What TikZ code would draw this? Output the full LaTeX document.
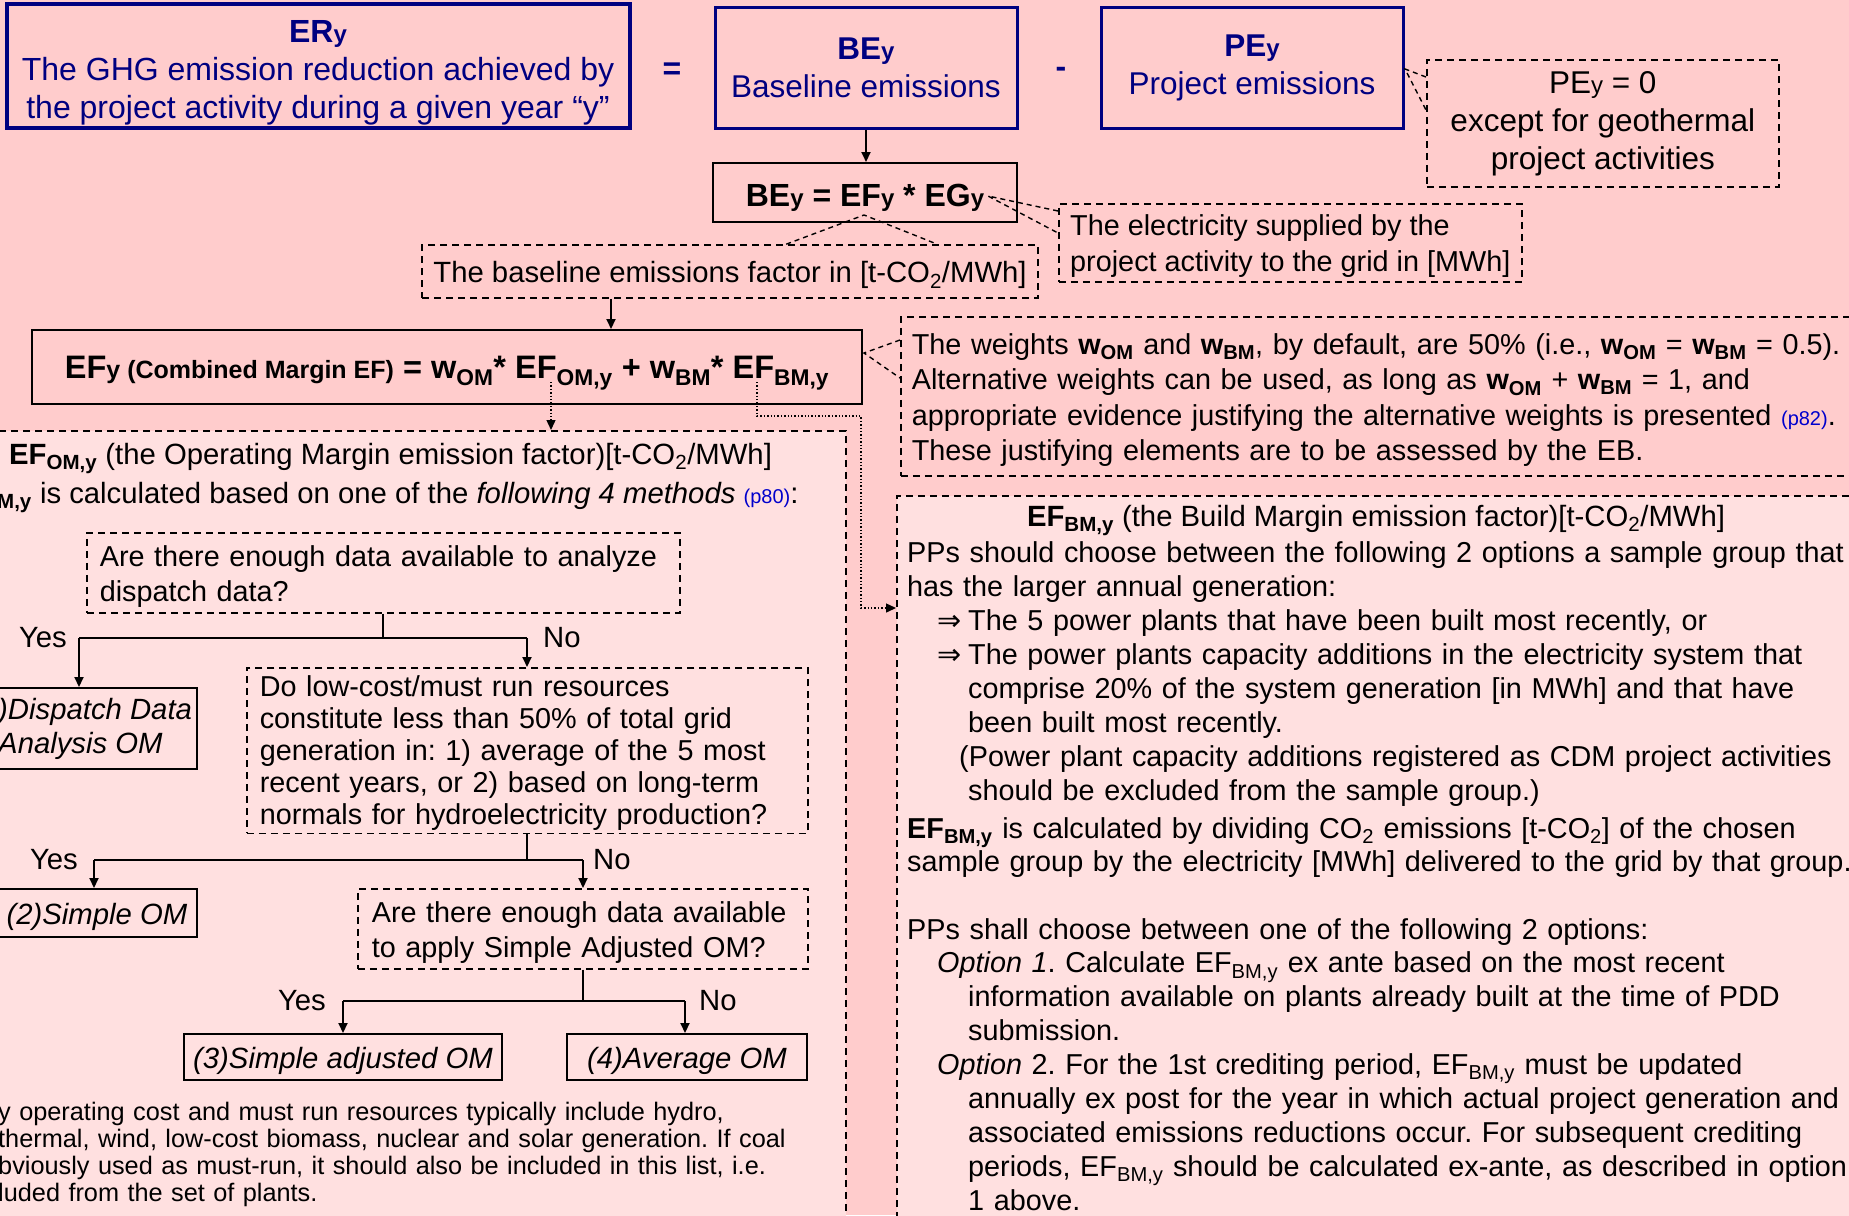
\documentclass[tikz,border=0pt]{standalone}
\usepackage{fontspec}
\setmainfont{Liberation Sans}
\newfontfamily\dvsans{DejaVu Sans}
\usetikzlibrary{positioning,arrows.meta}
\frenchspacing

\definecolor{bgpink}{RGB}{255,204,204}
\definecolor{boxpink}{RGB}{255,224,224}
\definecolor{navy}{RGB}{0,0,128}
\definecolor{linkblue}{RGB}{0,0,204}
\newcommand\lo[1]{\textsubscript{#1}}
\newcommand\sy{{\fontsize{24}{24}\selectfont y}}
\newcommand\pref[1]{{\color{linkblue}\fontsize{20}{20}\selectfont #1}}
\newcommand\topstrut{\rule{0pt}{28pt}}

\begin{document}
\begin{tikzpicture}[x=1pt, y=-1pt,
  big/.style={font=\fontsize{31.5}{38}\selectfont},
  bold/.style={font=\fontsize{32}{38}\selectfont\bfseries},
  head/.style={font=\fontsize{29.3}{34}\selectfont},
  body/.style={font=\fontsize{28.8}{34}\selectfont},
  ital/.style={font=\fontsize{29.3}{34}\selectfont\itshape},
  note/.style={font=\fontsize{25.3}{27.3}\selectfont},
  navybox/.style={draw=navy, line width=3pt, text=navy, align=center, big},
  solidbox/.style={draw, line width=2pt},
  dashbox/.style={draw, line width=1.6pt, dash pattern=on 7pt off 5pt},
  oneline/.style={text height=22pt, text depth=0pt},
  txt/.style={inner sep=0pt, anchor=base west},
  branch/.style={line width=2pt},
  arr/.style={line width=2pt, -{Triangle[length=10pt,width=9pt]}},
  callout/.style={line width=1.4pt, dash pattern=on 5pt off 4pt},
  dotarr/.style={line width=1.4pt, dotted, -{Triangle[length=10pt,width=9pt]}}]
\useasboundingbox (0,0) rectangle (1849,1215);
\clip (0,0) rectangle (1849,1215);
\fill[bgpink] (0,0) rectangle (1849,1215);

% top row: ER = BE - PE
\node[navybox, line width=4pt, font=\fontsize{32}{38}\selectfont, minimum width=623pt, minimum height=121pt] (erbox) at (318,66)
  {\rule{0pt}{35pt}\textbf{ER\sy}\\The GHG emission reduction achieved by\\the project activity during a given year “y”};
\node[bold, text=navy] (eqsign) at (672,71) {=};
\node[navybox, minimum width=302pt, minimum height=120pt] (bebox) at (866,68)
  {\textbf{BE\sy}\\Baseline emissions};
\node[bold, text=navy] (minussign) at (1061,72) {-};
\node[navybox, minimum width=302pt, minimum height=120pt] (pebox) at (1252,68)
  {\textbf{PE\sy}\\Project emissions};
\node[dashbox, big, align=center, anchor=north west, minimum width=352pt, minimum height=127pt] (penote) at (1426,59)
  {PE\sy\ = 0\\except for geothermal\\project activities};

% baseline emissions
\node[solidbox, bold, oneline, text height=28pt, minimum width=304pt, minimum height=59pt] (beform) at (865,192.5) {BE\sy\ = EF\sy\ * EG\sy};
\node[dashbox, head, oneline, minimum width=616pt, minimum height=53pt] (efnote) at (730,271.5)
  {The baseline emissions factor in [t-CO\lo{2}/MWh]};
\node[dashbox, font=\fontsize{28.8}{36}\selectfont, align=left, anchor=north west, minimum width=463pt, minimum height=78pt, inner xsep=7pt] (egnote) at (1058,203)
  {\topstrut The electricity supplied by the\\project activity to the grid in [MWh]};
\node[solidbox, font=\fontsize{32.5}{38}\selectfont\bfseries, oneline, minimum width=830pt, minimum height=74pt] (cmbox) at (447,367)
  {EF{\fontsize{25}{25}\selectfont y (Combined Margin EF)} = w\lo{OM}* EF\lo{OM,y} + w\lo{BM}* EF\lo{BM,y}};
\node[dashbox, font=\fontsize{28.8}{35.5}\selectfont, align=left, anchor=north west, minimum width=1007pt, minimum height=159pt, text width=985pt, inner xsep=11pt] (wnote) at (900,316)
  {\topstrut The weights \textbf{w\lo{OM}} and \textbf{w\lo{BM}}, by default, are 50\% (i.e., \textbf{w\lo{OM}} = \textbf{w\lo{BM}} = 0.5).\\
   Alternative weights can be used, as long as \textbf{w\lo{OM}} + \textbf{w\lo{BM}} = 1, and\\
   appropriate evidence justifying the alternative weights is presented \pref{(p82)}.\\
   These justifying elements are to be assessed by the EB.};

\draw[arr] (bebox.south) -- (bebox.south |- beform.north);
\draw[arr] ([xshift=-119pt]efnote.south) -- ([xshift=-119pt]efnote.south |- cmbox.north);

% callouts
\coordinate (petip) at (1405,69);
\coordinate (egtip) at (988,196);
\coordinate (eftip) at (864,215);
\coordinate (wtip) at (864,353);
\draw[callout] ([yshift=-18pt]penote.north west) -- (petip) -- ([yshift=-51pt]penote.north west);
\draw[callout] ([yshift=-8pt]egnote.north west) -- (egtip) -- ([yshift=-30pt]egnote.north west);
\draw[callout] ([xshift=365pt]efnote.north west) -- (eftip) -- ([xshift=516pt]efnote.north west);
\draw[callout] ([yshift=-24pt]wnote.north west) -- (wtip) -- ([yshift=-62pt]wnote.north west);

% operating margin
\node[dashbox, fill=boxpink, anchor=north east, minimum width=880pt, minimum height=800pt] (ombox) at (847,430) {};
\node[txt, head] (omtitle) at (9,464) {\textbf{EF\lo{OM,y}} (the Operating Margin emission factor)[t-CO\lo{2}/MWh]};
\node[txt, head] (omline) at (-3,503) {\textbf{\lo{M,y}} is calculated based on one of the \textit{following 4 methods} \pref{(p80)}:};

\node[dashbox, font=\fontsize{28.8}{35}\selectfont, align=left, anchor=north west, minimum width=593pt, minimum height=80pt, text width=567pt, inner xsep=13pt] (q1) at (86,532)
  {\topstrut Are there enough data available to analyze\\dispatch data?};
\node[dashbox, font=\fontsize{28.8}{32}\selectfont, align=left, anchor=north west, minimum width=561pt, minimum height=165pt, text width=535pt, inner xsep=13pt] (q2) at (246,667)
  {\rule{0pt}{25pt}Do low-cost/must run resources\\constitute less than 50\% of total grid\\generation in: 1) average of the 5 most\\recent years, or 2) based on long-term\\normals for hydroelectricity production?};
\node[dashbox, font=\fontsize{28.8}{35}\selectfont, align=left, anchor=north west, minimum width=450pt, minimum height=80pt, text width=422pt, inner xsep=14pt] (q3) at (357,888)
  {\topstrut Are there enough data available\\to apply Simple Adjusted OM?};

\node[solidbox, ital, align=left, anchor=north east, minimum height=81pt, inner xsep=5pt] (om1) at (198,687) {)Dispatch Data\\Analysis OM};
\node[solidbox, ital, oneline, anchor=north east, minimum width=200pt, minimum height=48pt] (om2) at (198,888) {(2)Simple OM};
\node[solidbox, ital, oneline, minimum width=318pt, minimum height=46pt] (om3) at (343,1057) {(3)Simple adjusted OM};
\node[solidbox, ital, oneline, minimum width=240pt, minimum height=46pt] (om4) at (687,1057) {(4)Average OM};

\coordinate (q1yes) at (79,638);
\coordinate (q1no) at (527,638);
\coordinate (q2yes) at (94,860);
\coordinate (q2no) at (583,860);
\coordinate (q3yes) at (343,1001);
\coordinate (q3no) at (685,1001);
\draw[branch] (q1.south) -- (q1.south |- q1yes) (q1yes) -- (q1no);
\draw[arr] (q1yes) -- (q1yes |- om1.north);
\draw[arr] (q1no) -- (q1no |- q2.north);
\draw[branch] (q2.south) -- (q2.south |- q2yes) (q2yes) -- (q2no);
\draw[arr] (q2yes) -- (q2yes |- om2.north);
\draw[arr] (q2no) -- (q2no |- q3.north);
\draw[branch] (q3.south) -- (q3.south |- q3yes) (q3yes) -- (q3no);
\draw[arr] (q3yes) -- (q3yes |- om3.north);
\draw[arr] (q3no) -- (q3no |- om4.north);
\node[head, inner sep=0pt, left=12pt of q1yes] (yes1) {Yes};
\node[head, inner sep=0pt, right=16pt of q1no] (no1) {No};
\node[head, inner sep=0pt, left=16pt of q2yes] (yes2) {Yes};
\node[head, inner sep=0pt, right=10pt of q2no] (no2) {No};
\node[head, inner sep=0pt, left=17pt of q3yes] (yes3) {Yes};
\node[head, inner sep=0pt, right=14pt of q3no] (no3) {No};

\node[txt, note, align=left, text width=900pt] (omfoot) at (-2,1120)
  {y operating cost and must run resources typically include hydro,\\thermal, wind, low-cost biomass, nuclear and solar generation. If coal\\bviously used as must-run, it should also be included in this list, i.e.\\luded from the set of plants.};

% build margin
\node[dashbox, fill=boxpink, anchor=north west, minimum width=970pt, minimum height=740pt] (bmbox) at (896,495) {};
\node[head, inner sep=0pt, anchor=base] (bmtitle) at (1376,526) {\textbf{EF\lo{BM,y}} (the Build Margin emission factor)[t-CO\lo{2}/MWh]};
\node[txt, body, align=left, text width=1000pt] (bmlist) at (907,562)
  {PPs should choose between the following 2 options a sample group that\\
   has the larger annual generation:\\
   \hspace*{30pt}\makebox[31pt][l]{\dvsans ⇒}The 5 power plants that have been built most recently, or\\
   \hspace*{30pt}\makebox[31pt][l]{\dvsans ⇒}The power plants capacity additions in the electricity system that\\
   \hspace*{61pt}comprise 20\% of the system generation [in MWh] and that have\\
   \hspace*{61pt}been built most recently.\\
   \hspace*{52pt}(Power plant capacity additions registered as CDM project activities\\
   \hspace*{61pt}should be excluded from the sample group.)};
\node[txt, font=\fontsize{28.8}{33}\selectfont, align=left, text width=1000pt] (bmcalc) at (907,838)
  {\textbf{EF\lo{BM,y}} is calculated by dividing CO\lo{2} emissions [t-CO\lo{2}] of the chosen\\
   sample group by the electricity [MWh] delivered to the grid by that group.};
\node[txt, font=\fontsize{28.8}{33.9}\selectfont, align=left, text width=1000pt] (bmopts) at (907,939)
  {PPs shall choose between one of the following 2 options:\\
   \hspace*{30pt}\textit{Option 1}. Calculate EF\lo{BM,y} ex ante based on the most recent\\
   \hspace*{61pt}information available on plants already built at the time of PDD\\
   \hspace*{61pt}submission.\\
   \hspace*{30pt}\textit{Option} 2. For the 1st crediting period, EF\lo{BM,y} must be updated\\
   \hspace*{61pt}annually ex post for the year in which actual project generation and\\
   \hspace*{61pt}associated emissions reductions occur. For subsequent crediting\\
   \hspace*{61pt}periods, EF\lo{BM,y} should be calculated ex-ante, as described in option\\
   \hspace*{61pt}1 above.};

% dotted links from the combined margin
\coordinate (omtap) at (551,382);
\coordinate (bmtap) at (757,382);
\coordinate (bmbend) at (861,416);
\coordinate (bmin) at (896,608);
\draw[dotarr] (omtap) -- (omtap |- ombox.north);
\draw[dotarr] (bmtap) |- (bmbend) |- (bmin);
\end{tikzpicture}
\end{document}
